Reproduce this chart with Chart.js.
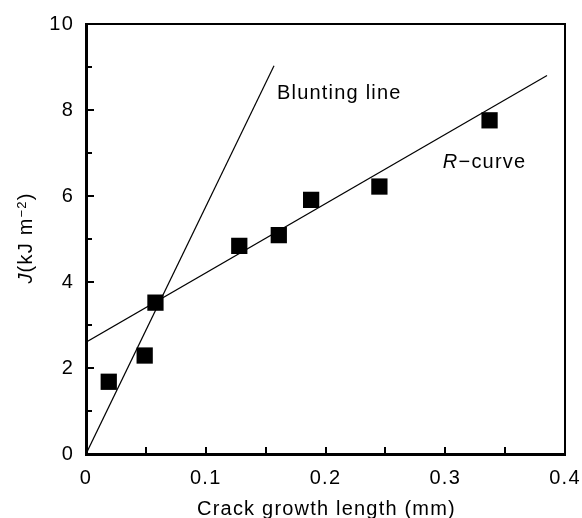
<!DOCTYPE html>
<html>
<head>
<meta charset="utf-8">
<script src="https://cdn.jsdelivr.net/npm/chart.js@4/dist/chart.umd.min.js"></script>
<style>
  html, body { margin: 0; padding: 0; background: #fff; }
</style>
</head>
<body>
<canvas id="chart" width="582" height="518"></canvas>
<script>
// measured points (crack growth in mm, J in kJ/m2)
const crackGrowth = [0.019, 0.049, 0.058, 0.128, 0.161, 0.188, 0.245, 0.337];
const jValues = [1.68, 2.29, 3.52, 4.84, 5.09, 5.91, 6.22, 7.76];

// fitted lines, two ends each
const bluntX = [0, 0.157];
const bluntY = [0, 9.03];
const rCurveX = [0, 0.385];
const rCurveY = [2.6, 8.8];

// text labels inside the plot (data coords of left baseline)
const labelTexts = ['Blunting line', 'R-curve'];
const labelX = [0.1595, 0.298];
const labelY = [8.26, 6.64];

const FONT = '"Liberation Sans", Arial, Helvetica, sans-serif';

function pairs(xs, ys) {
    return xs.map((x, i) => ({ x: x, y: ys[i] }));
}

// frame, inward ticks, titles and labels
const decorations = {
    id: 'decorations',
    beforeLayout(chart) {
        chart.ctx.letterSpacing = '1.2px';
    },
    beforeDraw(chart) {
        chart.ctx.letterSpacing = '1.2px';
    },
    afterDatasetsDraw(chart) {
        const ctx = chart.ctx;
        const area = chart.chartArea;
        const xs = chart.scales.x;
        const ys = chart.scales.y;

        ctx.save();
        ctx.strokeStyle = '#000';

        // top and right border (thinner)
        ctx.lineWidth = 2;
        ctx.beginPath();
        ctx.moveTo(area.left, area.top);
        ctx.lineTo(area.right, area.top);
        ctx.lineTo(area.right, area.bottom);
        ctx.stroke();

        // inward ticks
        ctx.lineWidth = 2;
        ctx.beginPath();
        xs.ticks.forEach(t => {
            if (t.value <= xs.min || t.value >= xs.max) return;
            const px = Math.round(xs.getPixelForValue(t.value));
            ctx.moveTo(px, area.bottom);
            ctx.lineTo(px, area.bottom - 7);
        });
        ys.ticks.forEach(t => {
            if (t.value <= ys.min || t.value >= ys.max) return;
            const py = Math.round(ys.getPixelForValue(t.value));
            const len = t.value % 2 === 0 ? 8 : 6;
            ctx.moveTo(area.left, py);
            ctx.lineTo(area.left + len, py);
        });
        ctx.stroke();

        ctx.fillStyle = '#000';
        ctx.letterSpacing = '1.2px';
        ctx.textBaseline = 'alphabetic';
        ctx.textAlign = 'left';

        // in-plot labels
        labelTexts.forEach((txt, i) => {
            let px = xs.getPixelForValue(labelX[i]);
            const py = ys.getPixelForValue(labelY[i]);
            if (txt.startsWith('R-')) {
                ctx.font = 'italic 20px ' + FONT;
                ctx.fillText('R', px, py);
                px += ctx.measureText('R').width;
                ctx.font = '20px ' + FONT;
                ctx.fillText('\u2212curve', px, py);
            } else {
                ctx.font = '20px ' + FONT;
                ctx.fillText(txt, px, py);
            }
        });

        // x axis title
        ctx.font = '20px ' + FONT;
        ctx.textAlign = 'center';
        ctx.fillText('Crack growth length (mm)', (area.left + area.right) / 2 + 1, 515);

        // y axis title, rotated, with italic J and superscript
        const parts = [
            { t: 'J', f: 'italic 20px ' + FONT, dy: 0 },
            { t: '(kJ m', f: '20px ' + FONT, dy: 0 },
            { t: '\u22122', f: '13px ' + FONT, dy: -6 },
            { t: ')', f: '20px ' + FONT, dy: 0 }
        ];
        let total = 0;
        parts.forEach(p => { ctx.font = p.f; p.w = ctx.measureText(p.t).width; total += p.w; });
        ctx.translate(32, 238);
        ctx.rotate(-Math.PI / 2);
        ctx.textAlign = 'left';
        let cx = -total / 2;
        parts.forEach(p => {
            ctx.font = p.f;
            ctx.fillText(p.t, cx, p.dy);
            cx += p.w;
        });
        ctx.restore();
    }
};

new Chart(document.getElementById('chart'), {
    type: 'scatter',
    data: {
        datasets: [
            {
                label: 'Blunting line',
                type: 'line',
                data: pairs(bluntX, bluntY),
                borderColor: '#000',
                borderWidth: 1.2,
                pointRadius: 0,
                fill: false
            },
            {
                label: 'R-curve',
                type: 'line',
                data: pairs(rCurveX, rCurveY),
                borderColor: '#000',
                borderWidth: 1.2,
                pointRadius: 0,
                fill: false
            },
            {
                label: 'J data',
                data: pairs(crackGrowth, jValues),
                pointStyle: 'rect',
                pointRadius: 11.5,
                pointHoverRadius: 11.5,
                backgroundColor: '#000',
                borderColor: '#000',
                borderWidth: 0
            }
        ]
    },
    options: {
        responsive: false,
        animation: false,
        devicePixelRatio: 1,
        layout: { padding: { left: 0, top: 22, right: 0, bottom: 0 } },
        plugins: {
            legend: { display: false },
            tooltip: { enabled: false }
        },
        scales: {
            x: {
                type: 'linear',
                min: 0,
                max: 0.4,
                afterFit: s => { s.height = 64; s.paddingRight = 17; },
                border: { display: true, color: '#000', width: 3 },
                grid: { display: false, drawTicks: false },
                ticks: {
                    stepSize: 0.05,
                    autoSkip: false,
                    maxRotation: 0,
                    padding: 12,
                    color: '#000',
                    font: { family: FONT, size: 20 },
                    callback: v => {
                        const r = Math.round(v * 100);
                        if (r % 10 !== 0) return '';
                        return r === 0 ? '0' : (r / 100).toString();
                    }
                }
            },
            y: {
                type: 'linear',
                min: 0,
                max: 10,
                afterFit: s => { s.width = 86; },
                border: { display: true, color: '#000', width: 3 },
                grid: { display: false, drawTicks: false },
                ticks: {
                    stepSize: 1,
                    autoSkip: false,
                    padding: 12,
                    color: '#000',
                    font: { family: FONT, size: 20 },
                    callback: v => (v % 2 === 0 ? v.toString() : '')
                }
            }
        }
    },
    plugins: [decorations]
});
</script>
</body>
</html>
